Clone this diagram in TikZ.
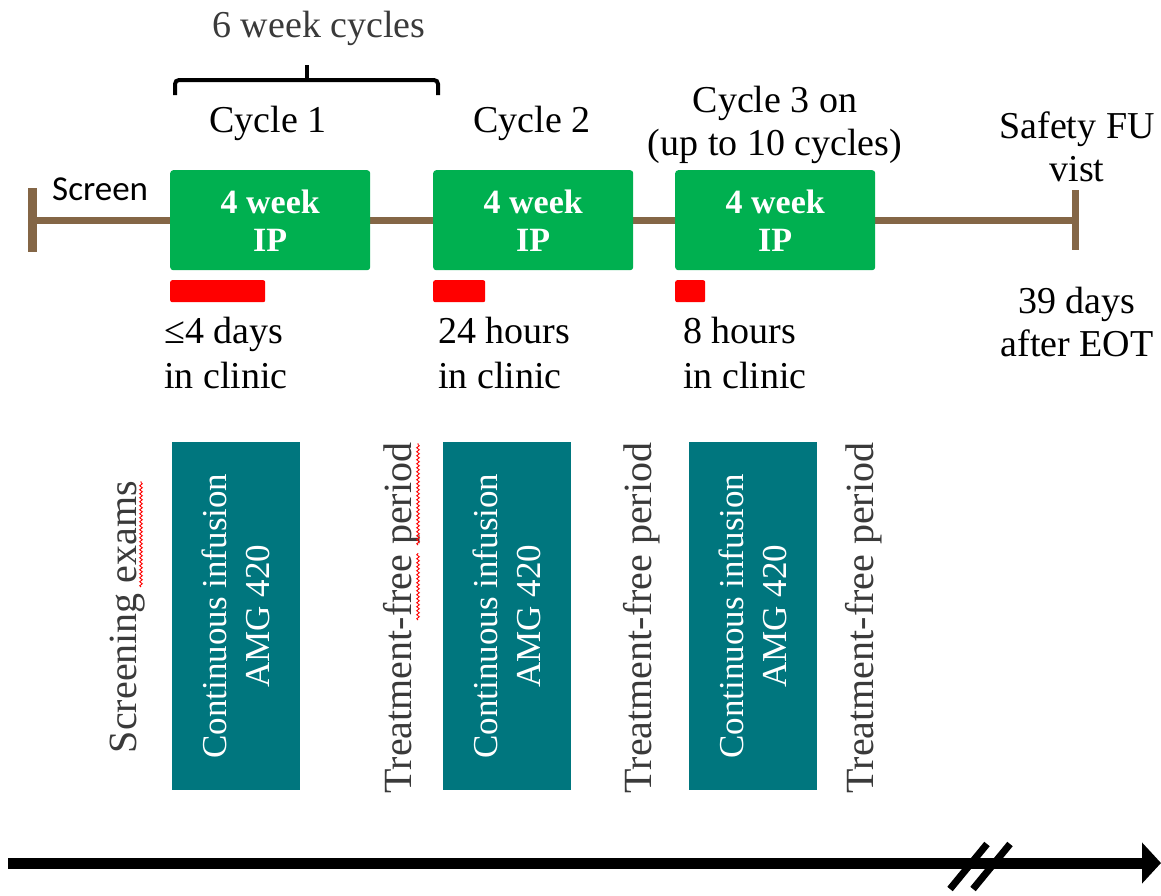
\documentclass[tikz,border=0pt]{standalone}
\usepackage{fontspec}
\setmainfont{Liberation Serif}
\newfontfamily\calibri{Carlito}
\usetikzlibrary{arrows.meta,decorations.pathmorphing}
\definecolor{ipgreen}{HTML}{00B050}
\definecolor{clinicred}{HTML}{FF0000}
\definecolor{tlbrown}{HTML}{846646}
\definecolor{teal}{HTML}{00767E}
\definecolor{txtgray}{HTML}{3A3A3A}
\begin{document}
\begin{tikzpicture}[x=1pt,y=-1pt,
  ipbox/.style={fill=ipgreen, rounded corners=3pt, minimum width=200pt, minimum height=100pt,
    text=white, font=\fontsize{34}{38}\selectfont\bfseries, align=center, inner sep=0pt, anchor=north west},
  redbar/.style={fill=clinicred, rounded corners=2pt, inner sep=0pt, minimum height=22pt, anchor=north west},
  lbl/.style={font=\fontsize{38}{43}\selectfont, text=black, align=center, inner sep=0pt},
  clin/.style={font=\fontsize{38}{45}\selectfont, text=black, align=left, inner sep=0pt, anchor=north west},
  infbox/.style={fill=teal, rotate=90, minimum width=348pt, minimum height=128pt, inner sep=0pt,
    text=white, font=\fontsize{35}{43}\selectfont, align=center},
  vlbl/.style={rotate=90, font=\fontsize{40}{44}\selectfont, text=txtgray, inner sep=0pt},
  spell/.style={draw=clinicred, line width=0.9pt, decorate, decoration={snake, amplitude=1.3pt, segment length=4pt}},
  tl/.style={draw=tlbrown, line width=7pt},
]
\useasboundingbox (0,0) rectangle (1161,895);

% timeline
\coordinate (tlL) at (32,220);
\coordinate (tlR) at (1075,220);
\coordinate (tlLt) at (32,188);
\coordinate (tlLb) at (32,252);
\coordinate (tlRt) at (1075,190);
\coordinate (tlRb) at (1075,250);
\draw[tl] (tlL) -- (tlR);
\draw[tl, line width=9pt] (tlLt) -- (tlLb);
\draw[tl] (tlRt) -- (tlRb);

% green boxes
\node[ipbox] (ip1) at (170,170) {4 week\\IP};
\node[ipbox] (ip2) at (433,170) {4 week\\IP};
\node[ipbox] (ip3) at (675,170) {4 week\\IP};

% red bars
\node[redbar, minimum width=95pt] (r1) at (170,280) {};
\node[redbar, minimum width=52pt] (r2) at (433,280) {};
\node[redbar, minimum width=30pt] (r3) at (675,280) {};

% clinic texts
\node[clin] (c1) at (164,317) {≤4 days\\in clinic};
\node[clin] (c2) at (438,317) {24 hours\\in clinic};
\node[clin] (c3) at (683,317) {8 hours\\in clinic};
\node[lbl, anchor=north] (eot) at (1077,287) {39 days\\after EOT};

% top labels
\node[lbl, anchor=base, text=txtgray] (six) at (319,37) {6 week cycles};
\node[lbl, anchor=base] (cy1) at (268,132) {Cycle 1};
\node[lbl, anchor=base] (cy2) at (532,132) {Cycle 2};
\node[lbl, anchor=north] (cy3) at (775,86) {Cycle 3 on\\(up to 10 cycles)};
\node[lbl, anchor=north] (fu) at (1077,112) {Safety FU\\vist};
\node[font=\calibri\fontsize{35}{40}\selectfont, anchor=base west, inner sep=0pt] (scr) at (52,200) {Screen};

% bracket
\coordinate (bL) at (175,95);
\coordinate (bR) at (438,95);
\coordinate (bM) at (307,80);
\coordinate (bT) at (307,65);
\draw[line width=4pt, rounded corners=4pt] (bL) -- (175,80) -- (438,80) -- (bR);
\draw[line width=4pt] (bM) -- (bT);

% infusion boxes
\node[infbox] (inf1) at (236,616) {Continuous infusion\\AMG 420};
\node[infbox] (inf2) at (506.5,616) {Continuous infusion\\AMG 420};
\node[infbox] (inf3) at (753,616) {Continuous infusion\\AMG 420};

% vertical labels
\node[vlbl] (scrx) at (128,617) {Screening exams};
\node[vlbl] (tf1) at (402,618) {Treatment-free period};
\node[vlbl] (tf2) at (642,618) {Treatment-free period};
\node[vlbl] (tf3) at (864,618) {Treatment-free period};

% spell-check marks
\draw[spell] (141,587) -- (141,481);
\draw[spell] (418,620) -- (418,553);
\draw[spell] (418,545) -- (418,443);

% bottom time arrow
\coordinate (axL) at (8,863);
\coordinate (axR) at (1161,863);
\draw[line width=11pt, -{Triangle[length=19pt,width=40pt]}] (axL) -- (axR);
\draw[line width=7pt] (950,889) -- (987,844);
\draw[line width=7pt] (973,889) -- (1010,844);
\end{tikzpicture}
\end{document}
